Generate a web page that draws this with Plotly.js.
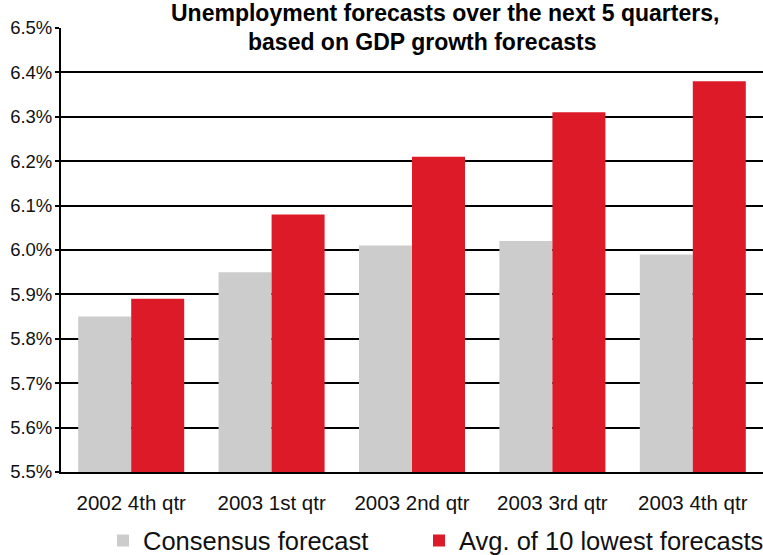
<!DOCTYPE html>
<html>
<head>
<meta charset="utf-8">
<script src="https://cdn.plot.ly/plotly-3.0.1.min.js"></script>
<style>
  html, body { margin: 0; padding: 0; background: #ffffff; }
  #chart { width: 763px; height: 555px; }
</style>
</head>
<body>
<div id="chart"></div>
<script>
// ---- data ----
const quarters = ["2002 4th qtr", "2003 1st qtr", "2003 2nd qtr", "2003 3rd qtr", "2003 4th qtr"];
const consensusForecast = [5.85, 5.95, 6.01, 6.02, 5.99];
const lowestTenAverage = [5.89, 6.08, 6.21, 6.31, 6.38];
const seriesNames = ["Consensus forecast", "Avg. of 10 lowest forecasts"];
const yTickValues = [5.5, 5.6, 5.7, 5.8, 5.9, 6.0, 6.1, 6.2, 6.3, 6.4, 6.5];
const yTickLabels = ["5.5%", "5.6%", "5.7%", "5.8%", "5.9%", "6.0%", "6.1%", "6.2%", "6.3%", "6.4%", "6.5%"];
const titleLines = ["Unemployment forecasts over the next 5 quarters,", "based on GDP growth forecasts"];

const sans = '"Liberation Sans", Arial, Helvetica, sans-serif';

const traces = [
  {
    type: "bar",
    name: seriesNames[0],
    legend: "legend",
    x: quarters,
    y: consensusForecast,
    marker: { color: "#cccccc", line: { width: 0 } },
    hoverinfo: "x+y"
  },
  {
    type: "bar",
    name: seriesNames[1],
    legend: "legend2",
    x: quarters,
    y: lowestTenAverage,
    marker: { color: "#dc1a28", line: { width: 0 } },
    hoverinfo: "x+y"
  }
];

const legendCommon = {
  orientation: "h",
  xanchor: "left",
  yanchor: "middle",
  y: -0.155,
  font: { family: sans, size: 25.5, color: "#111111" },
  itemwidth: 30,
  bgcolor: "rgba(0,0,0,0)",
  borderwidth: 0
};

const layout = {
  width: 763,
  height: 555,
  margin: { l: 61, r: 0, t: 27.5, b: 83, pad: 0, autoexpand: false },
  paper_bgcolor: "#ffffff",
  plot_bgcolor: "#ffffff",
  barmode: "group",
  bargap: 0.245,
  bargroupgap: 0,
  showlegend: true,
  legend: Object.assign({}, legendCommon, { x: (103 - 61) / 702 }),
  legend2: Object.assign({}, legendCommon, { x: (419 - 61) / 702 }),
  xaxis: {
    type: "category",
    showline: true,
    linecolor: "#000000",
    linewidth: 2,
    ticks: "",
    showgrid: false,
    zeroline: false,
    tickfont: { family: sans, size: 20.5, color: "#111111" },
    ticklabelstandoff: 11
  },
  yaxis: {
    range: [5.5, 6.5],
    tickmode: "array",
    tickvals: yTickValues,
    ticktext: yTickLabels,
    showline: true,
    linecolor: "#000000",
    linewidth: 2,
    ticks: "outside",
    ticklen: 4,
    tickwidth: 2,
    tickcolor: "#000000",
    showgrid: true,
    gridcolor: "#000000",
    gridwidth: 2,
    zeroline: false,
    tickfont: { family: sans, size: 18.5, color: "#111111" },
    ticklabelstandoff: -1
  },
  annotations: [
    {
      text: "<b>" + titleLines[0] + "</b>",
      xref: "paper", yref: "paper",
      x: (444.5 - 61) / 702, xanchor: "center",
      y: 1 + (27.5 - 28) / 444.5, yanchor: "bottom",
      showarrow: false,
      font: { family: sans, size: 23, color: "#000000" }
    },
    {
      text: "<b>" + titleLines[1] + "</b>",
      xref: "paper", yref: "paper",
      x: (421.5 - 61) / 702, xanchor: "center",
      y: 1 + (27.5 - 57) / 444.5, yanchor: "bottom",
      showarrow: false,
      font: { family: sans, size: 23, color: "#000000" }
    }
  ]
};

Plotly.newPlot("chart", traces, layout, { displayModeBar: false, staticPlot: true });
</script>
</body>
</html>
